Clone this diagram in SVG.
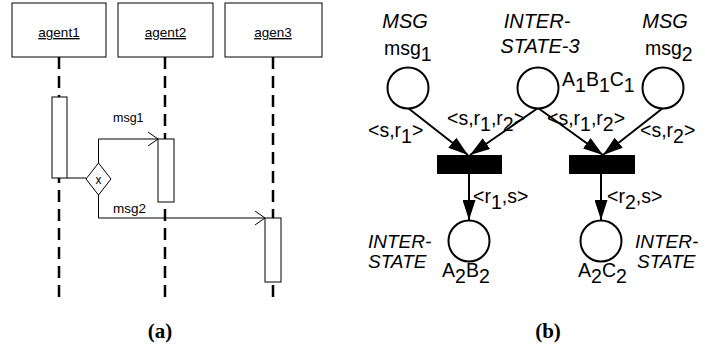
<svg xmlns="http://www.w3.org/2000/svg" width="705" height="345" viewBox="0 0 705 345">
  <style>
    .box { fill: #fff; stroke: #000; stroke-width: 1; }
    .life { stroke: #000; stroke-width: 2.5; stroke-dasharray: 12 7; fill: none; }
    .msgline { stroke: #000; stroke-width: 1; fill: none; }
    .lbl { font-family: "Liberation Sans", Arial, sans-serif; fill: #000; }
    .seq { font-size: 13.5px; }
    .pn { font-size: 19.5px; }
    .it { font-style: italic; font-size: 20px; }
    .st { font-style: italic; font-size: 19px; }
    .cap { font-family: "Liberation Serif", "Times New Roman", serif; font-weight: bold; font-size: 21px; }
    .place { fill: #fff; stroke: #000; stroke-width: 2; }
    .arc { stroke: #000; stroke-width: 2; fill: none; }
  </style>
  <defs>
    <marker id="open" viewBox="0 0 10 14" refX="10" refY="7" markerWidth="10" markerHeight="14" markerUnits="userSpaceOnUse" orient="auto">
      <path d="M0,0 L10,7 L0,14" fill="none" stroke="#000" stroke-width="1"/>
    </marker>
    <marker id="solid" viewBox="0 0 20 13" refX="20" refY="6.5" markerWidth="20" markerHeight="13" markerUnits="userSpaceOnUse" orient="auto">
      <path d="M0,0 L20,6.5 L0,13 Z" fill="#000"/>
    </marker>
  </defs>

  <!-- (a) sequence diagram -->
  <g id="lifelines">
    <line class="life" x1="59" y1="57" x2="59" y2="299"/>
    <line class="life" x1="165" y1="57" x2="165" y2="299"/>
    <line class="life" x1="273" y1="57" x2="273" y2="299"/>
  </g>

  <g id="agent1">
    <rect class="box" x="12" y="3" width="94" height="54"/>
    <text class="lbl seq" x="59" y="37" text-anchor="middle" text-decoration="underline">agent1</text>
  </g>
  <g id="agent2">
    <rect class="box" x="118" y="3" width="95" height="54"/>
    <text class="lbl seq" x="165.5" y="37" text-anchor="middle" text-decoration="underline">agent2</text>
  </g>
  <g id="agen3">
    <rect class="box" x="225" y="3" width="97" height="54"/>
    <text class="lbl seq" x="273" y="37" text-anchor="middle" text-decoration="underline">agen3</text>
  </g>

  <g id="act1"><rect class="box" x="52" y="97" width="15" height="81"/></g>
  <g id="act2"><rect class="box" x="158" y="139" width="16" height="63"/></g>
  <g id="act3"><rect class="box" x="265" y="218" width="16" height="64"/></g>

  <g id="seq-connectors">
    <line class="msgline" x1="67" y1="178" x2="86" y2="178"/>
    <polyline class="msgline" points="98.5,163 98.5,139 158,139" marker-end="url(#open)"/>
    <polyline class="msgline" points="98.5,195 98.5,218 265,218" marker-end="url(#open)"/>
  </g>

  <g id="choice">
    <polygon class="box" points="98.5,163 111,179 98.5,195 86,179"/>
    <text class="lbl" x="98.5" y="183.5" font-size="12" text-anchor="middle">x</text>
  </g>

  <text class="lbl" x="113" y="122" font-size="12.5">msg1</text>
  <text class="lbl seq" x="113" y="213">msg2</text>

  <text class="cap" x="160" y="338" text-anchor="middle">(a)</text>

  <!-- (b) Petri net -->
  <g id="pn-arcs">
    <line class="arc" x1="408" y1="108" x2="468" y2="155" marker-end="url(#solid)"/>
    <line class="arc" x1="538" y1="108" x2="470" y2="155" marker-end="url(#solid)"/>
    <line class="arc" x1="538" y1="108" x2="603" y2="155" marker-end="url(#solid)"/>
    <line class="arc" x1="663" y1="108" x2="603" y2="155" marker-end="url(#solid)"/>
    <line class="arc" x1="469" y1="174" x2="469" y2="220" marker-end="url(#solid)"/>
    <line class="arc" x1="601" y1="174" x2="601" y2="220" marker-end="url(#solid)"/>
  </g>

  <g id="p-msg1">
    <circle class="place" cx="408" cy="88" r="20.5"/>
    <text class="lbl it" x="405" y="28" text-anchor="middle">MSG</text>
    <text class="lbl pn" x="384" y="55">msg<tspan dy="6">1</tspan></text>
  </g>
  <g id="p-interstate3">
    <circle class="place" cx="538" cy="88" r="20.5"/>
    <text class="lbl it" x="537" y="28" text-anchor="middle">INTER-</text>
    <text class="lbl it" x="540" y="53" text-anchor="middle">STATE-3</text>
    <text class="lbl pn" x="562" y="86">A<tspan dy="6">1</tspan><tspan dy="-6">B</tspan><tspan dy="6">1</tspan><tspan dy="-6">C</tspan><tspan dy="6">1</tspan></text>
  </g>
  <g id="p-msg2">
    <circle class="place" cx="663" cy="88" r="20.5"/>
    <text class="lbl it" x="665" y="28" text-anchor="middle">MSG</text>
    <text class="lbl pn" x="645" y="55">msg<tspan dy="6">2</tspan></text>
  </g>

  <g id="t1"><rect x="437" y="155" width="65" height="19" fill="#000"/></g>
  <g id="t2"><rect x="569" y="155" width="66" height="19" fill="#000"/></g>

  <g id="p-a2b2">
    <circle class="place" cx="469" cy="241" r="20.5"/>
    <text class="lbl st" x="368" y="248">INTER-</text>
    <text class="lbl st" x="368" y="268">STATE</text>
    <text class="lbl pn" x="442" y="277">A<tspan dy="6">2</tspan><tspan dy="-6">B</tspan><tspan dy="6">2</tspan></text>
  </g>
  <g id="p-a2c2">
    <circle class="place" cx="601" cy="241" r="20.5"/>
    <text class="lbl st" x="635" y="248">INTER-</text>
    <text class="lbl st" x="637" y="268">STATE</text>
    <text class="lbl pn" x="578" y="277">A<tspan dy="6">2</tspan><tspan dy="-6">C</tspan><tspan dy="6">2</tspan></text>
  </g>

  <g id="arc-labels">
    <text class="lbl pn" x="368" y="137">&lt;s,r<tspan dy="6">1</tspan><tspan dy="-6">&gt;</tspan></text>
    <text class="lbl pn" x="447" y="125">&lt;s,r<tspan dy="6">1</tspan><tspan dy="-6">,r</tspan><tspan dy="6">2</tspan><tspan dy="-6">&gt;</tspan></text>
    <text class="lbl pn" x="547" y="125">&lt;s,r<tspan dy="6">1</tspan><tspan dy="-6">,r</tspan><tspan dy="6">2</tspan><tspan dy="-6">&gt;</tspan></text>
    <text class="lbl pn" x="640" y="137">&lt;s,r<tspan dy="6">2</tspan><tspan dy="-6">&gt;</tspan></text>
    <text class="lbl pn" x="473" y="203">&lt;r<tspan dy="6">1</tspan><tspan dy="-6">,s&gt;</tspan></text>
    <text class="lbl pn" x="607" y="203">&lt;r<tspan dy="6">2</tspan><tspan dy="-6">,s&gt;</tspan></text>
  </g>

  <text class="cap" x="548" y="338" text-anchor="middle">(b)</text>
</svg>
